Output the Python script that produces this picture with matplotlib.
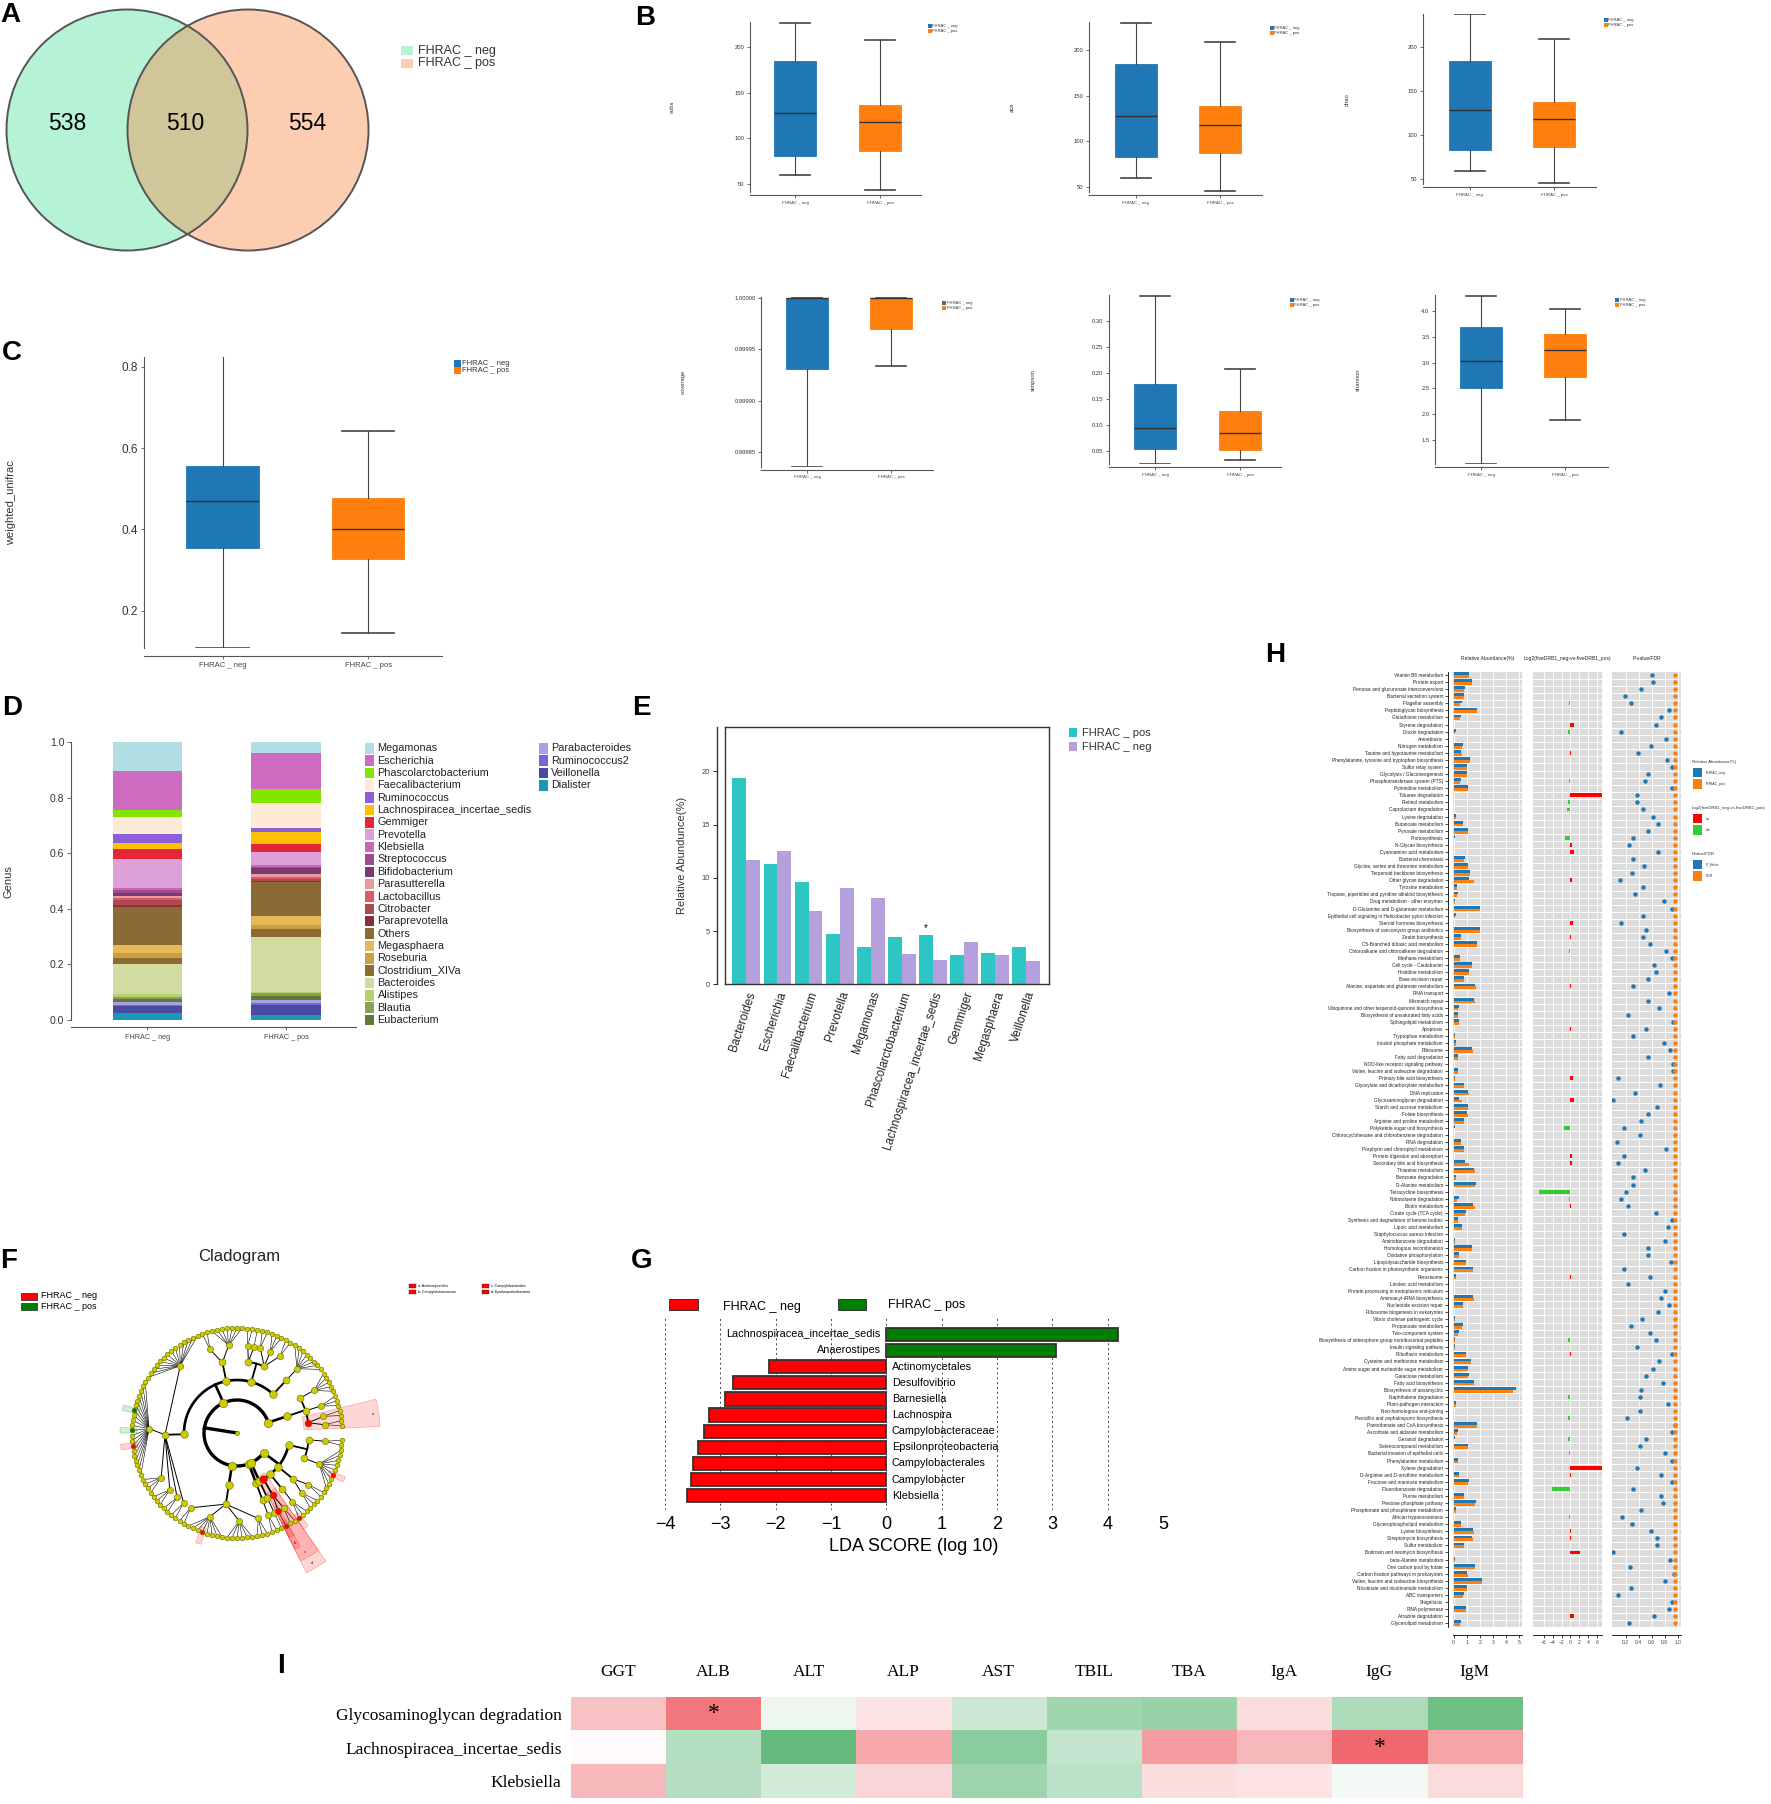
import numpy as np
import matplotlib
matplotlib.use('Agg')
import matplotlib.pyplot as plt
from matplotlib.patches import Circle, Rectangle, Wedge
from matplotlib.colors import LinearSegmentedColormap

plt.rcParams['font.family'] = ['Liberation Sans', 'DejaVu Sans']
NARROW = ['Liberation Sans Narrow', 'Liberation Sans', 'DejaVu Sans']
SERIF = ['Liberation Serif', 'DejaVu Serif']

BLUE, ORANGE = '#1f77b4', '#ff7f0e'

# ---------------- data ----------------
# A: venn
venn_counts = [538, 510, 554]
venn_labels = ['FHRAC _ neg', 'FHRAC _ pos']

# B / C: box stats (whislo, q1, med, q3, whishi)
sobs_neg = [59.2, 81.0, 127.6, 184.6, 227.0]
sobs_pos = [43.0, 86.0, 117.8, 136.4, 207.7]
ace_neg = [59.5, 82.5, 128.0, 185.0, 230.0]
ace_pos = [45.0, 87.0, 118.0, 138.0, 209.0]
chao_neg = [59.4, 82.6, 128.4, 184.8, 237.5]
chao_pos = [45.0, 86.7, 118.2, 138.2, 209.0]
coverage_neg = [0.999835, 0.999931, 1.0, 1.0, 1.0]
coverage_pos = [0.999934, 0.999970, 1.0, 1.0, 1.0]
simpson_neg = [0.0245, 0.0533, 0.0942, 0.179, 0.348]
simpson_pos = [0.0327, 0.052, 0.0846, 0.1277, 0.2077]
shannon_neg = [1.045, 2.512, 3.025, 3.687, 4.288]
shannon_pos = [1.898, 2.725, 3.25, 3.546, 4.03]
unifrac_neg = [0.108, 0.3534, 0.4687, 0.5546, 0.825]
unifrac_pos = [0.1447, 0.327, 0.401, 0.477, 0.642]
groups = ['FHRAC _ neg', 'FHRAC _ pos']

# D: genus composition (legend order, top of stack first)
genus_names = ['Megamonas', 'Escherichia', 'Phascolarctobacterium', 'Faecalibacterium',
               'Ruminococcus', 'Lachnospiracea_incertae_sedis', 'Gemmiger', 'Prevotella',
               'Klebsiella', 'Streptococcus', 'Bifidobacterium', 'Parasutterella',
               'Lactobacillus', 'Citrobacter', 'Paraprevotella', 'Others', 'Megasphaera',
               'Roseburia', 'Clostridium_XIVa', 'Bacteroides', 'Alistipes', 'Blautia',
               'Eubacterium', 'Parabacteroides', 'Ruminococcus2', 'Veillonella', 'Dialister']
genus_neg = [0.103, 0.141, 0.026, 0.061, 0.033, 0.021, 0.035, 0.103, 0.010, 0.010,
             0.010, 0.008, 0.006, 0.020, 0.007, 0.135, 0.031, 0.016, 0.021, 0.111,
             0.009, 0.008, 0.009, 0.011, 0.006, 0.024, 0.025]
genus_pos = [0.038, 0.129, 0.053, 0.087, 0.017, 0.043, 0.027, 0.047, 0.007, 0.006,
             0.020, 0.010, 0.009, 0.006, 0.005, 0.121, 0.033, 0.014, 0.029, 0.197,
             0.006, 0.010, 0.014, 0.012, 0.006, 0.036, 0.018]
genus_colors = ['#b0dee3', '#cc6bc0', '#82e600', '#fdebd8', '#8c5fd8', '#ffc000',
                '#e3263a', '#dda0d8', '#c968b8', '#a04a90', '#7a3a6e', '#e89aa0',
                '#dc5a68', '#b04850', '#8a3038', '#8b6b35', '#e8b858', '#c8a040',
                '#8e6a33', '#d2dca0', '#b8d070', '#8ba058', '#5e7a38', '#a8a0e0',
                '#7068d8', '#4a4aa0', '#1a98b8']

# E: top genera
top_genera = ['Bacteroides', 'Escherichia', 'Faecalibacterium', 'Prevotella', 'Megamonas',
              'Phascolarctobacterium', 'Lachnospiracea_incertae_sedis', 'Gemmiger',
              'Megasphaera', 'Veillonella']
top_pos = [19.37, 11.29, 9.59, 4.70, 3.54, 4.48, 4.67, 2.76, 2.95, 3.48]
top_neg = [11.66, 12.48, 6.87, 9.03, 8.15, 2.82, 2.32, 3.95, 2.76, 2.16]
top_sig = ['Lachnospiracea_incertae_sedis']

# F: cladogram (name, children); int = that many unnamed genera, 0 = leaf
clade_tree = [
    ('Actinobacteria', [('Actinobacteria', [
        ('Actinomycetales', [('Actinomycetaceae', 2), ('Micrococcaceae', 2)]),
        ('Bifidobacteriales', [('Bifidobacteriaceae', 3)]),
        ('Coriobacteriales', [('Coriobacteriaceae', 5)])])]),
    ('Firmicutes', [
        ('Erysipelotrichia', [('Erysipelotrichales', [('Erysipelotrichaceae', 8)])]),
        ('Bacilli', [
            ('Lactobacillales', [('Lactobacillaceae', 2), ('Streptococcaceae', 3),
                                 ('Enterococcaceae', 2)]),
            ('Bacillales', [('Staphylococcaceae', 1), ('Bacillaceae', 2)])]),
        ('Negativicutes', [('Selenomonadales', [('Veillonellaceae', 7),
                                                ('Acidaminococcaceae', 2)])]),
        ('Clostridia', [('Clostridiales', [
            ('Ruminococcaceae', 14),
            ('Lachnospiraceae', [6, ('Lachnospiracea_incertae_sedis', 0), 3,
                                 ('Anaerostipes', 0), 2, ('Lachnospira', 0), 6]),
            ('Clostridiaceae', 4), ('Peptostreptococcaceae', 3),
            ('Eubacteriaceae', 2), ('Peptococcaceae', 2)])])]),
    ('Bacteroidetes', [('Bacteroidia', [('Bacteroidales', [
        ('Bacteroidaceae', 2), ('Porphyromonadaceae', [3, ('Barnesiella', 0), 4]),
        ('Prevotellaceae', 6), ('Rikenellaceae', 3)])])]),
    ('Fusobacteria', [('Fusobacteriia', [('Fusobacteriales', [('Fusobacteriaceae', 2)])])]),
    ('Verrucomicrobia', [('Verrucomicrobiae', [('Verrucomicrobiales',
                                                 [('Verrucomicrobiaceae', 1)])])]),
    ('Proteobacteria', [
        ('Epsilonproteobacteria', [('Campylobacterales', [
            ('Campylobacteraceae', [('Campylobacter', 0)]), ('Helicobacteraceae', 2)])]),
        ('Deltaproteobacteria', [('Desulfovibrionales', [
            ('Desulfovibrionaceae', [('Desulfovibrio', 0), 2])])]),
        ('Betaproteobacteria', [('Burkholderiales', [('Sutterellaceae', 3),
                                                     ('Alcaligenaceae', 2)])]),
        ('Gammaproteobacteria', [
            ('Enterobacteriales', [('Enterobacteriaceae', [3, ('Klebsiella', 0), 5])]),
            ('Pasteurellales', [('Pasteurellaceae', 2)])])]),
]
clade_neg = ['Actinomycetales', 'Lachnospira', 'Barnesiella', 'Epsilonproteobacteria',
             'Campylobacterales', 'Campylobacteraceae', 'Campylobacter', 'Desulfovibrio',
             'Klebsiella']
clade_pos = ['Lachnospiracea_incertae_sedis', 'Anaerostipes']
clade_letters = {'Actinomycetales': 'a', 'Campylobacteraceae': 'b',
                 'Campylobacterales': 'c', 'Epsilonproteobacteria': 'd'}

# G: LEfSe
lefse_names = ['Lachnospiracea_incertae_sedis', 'Anaerostipes', 'Actinomycetales',
               'Desulfovibrio', 'Barnesiella', 'Lachnospira', 'Campylobacteraceae',
               'Epsilonproteobacteria', 'Campylobacterales', 'Campylobacter', 'Klebsiella']
lefse_lda = [4.18, 3.06, -2.12, -2.78, -2.92, -3.20, -3.29, -3.40, -3.50, -3.53, -3.61]

# H: KEGG pathways
h_paths = [
    'Vitamin B6 metabolism', 'Protein export', 'Pentose and glucuronate interconversions',
    'Bacterial secretion system', 'Flagellar assembly', 'Peptidoglycan biosynthesis',
    'Glutathione metabolism', 'Styrene degradation', 'Dioxin degradation', 'Amoebiasis',
    'Nitrogen metabolism', 'Taurine and hypotaurine metabolism',
    'Phenylalanine, tyrosine and tryptophan biosynthesis', 'Sulfur relay system',
    'Glycolysis / Gluconeogenesis', 'Phosphotransferase system (PTS)',
    'Pyrimidine metabolism', 'Toluene degradation', 'Retinol metabolism',
    'Caprolactam degradation', 'Lysine degradation', 'Butanoate metabolism',
    'Pyruvate metabolism', 'Photosynthesis', 'N-Glycan biosynthesis',
    'Cyanoamino acid metabolism', 'Bacterial chemotaxis',
    'Glycine, serine and threonine metabolism', 'Terpenoid backbone biosynthesis',
    'Other glycan degradation', 'Tyrosine metabolism',
    'Tropane, piperidine and pyridine alkaloid biosynthesis',
    'Drug metabolism - other enzymes', 'D-Glutamine and D-glutamate metabolism',
    'Epithelial cell signaling in Helicobacter pylori infection',
    'Steroid hormone biosynthesis', 'Biosynthesis of vancomycin group antibiotics',
    'Zeatin biosynthesis', 'C5-Branched dibasic acid metabolism',
    'Chloroalkane and chloroalkene degradation', 'Methane metabolism',
    'Cell cycle - Caulobacter', 'Histidine metabolism', 'Base excision repair',
    'Alanine, aspartate and glutamate metabolism', 'RNA transport', 'Mismatch repair',
    'Ubiquinone and other terpenoid-quinone biosynthesis',
    'Biosynthesis of unsaturated fatty acids', 'Sphingolipid metabolism', 'Apoptosis',
    'Tryptophan metabolism', 'Inositol phosphate metabolism', 'Ribosome',
    'Fatty acid degradation', 'NOD-like receptor signaling pathway',
    'Valine, leucine and isoleucine degradation', 'Primary bile acid biosynthesis',
    'Glyoxylate and dicarboxylate metabolism', 'DNA replication',
    'Glycosaminoglycan degradation', 'Starch and sucrose metabolism', 'Folate biosynthesis',
    'Arginine and proline metabolism', 'Polyketide sugar unit biosynthesis',
    'Chlorocyclohexane and chlorobenzene degradation', 'RNA degradation',
    'Porphyrin and chlorophyll metabolism', 'Protein digestion and absorption',
    'Secondary bile acid biosynthesis', 'Thiamine metabolism', 'Benzoate degradation',
    'D-Alanine metabolism', 'Tetracycline biosynthesis', 'Nitrotoluene degradation',
    'Biotin metabolism', 'Citrate cycle (TCA cycle)',
    'Synthesis and degradation of ketone bodies', 'Lipoic acid metabolism',
    'Staphylococcus aureus infection', 'Aminobenzoate degradation',
    'Homologous recombination', 'Oxidative phosphorylation',
    'Lipopolysaccharide biosynthesis', 'Carbon fixation in photosynthetic organisms',
    'Peroxisome', 'Linoleic acid metabolism', 'Protein processing in endoplasmic reticulum',
    'Aminoacyl-tRNA biosynthesis', 'Nucleotide excision repair',
    'Ribosome biogenesis in eukaryotes', 'Vibrio cholerae pathogenic cycle',
    'Propanoate metabolism', 'Two-component system',
    'Biosynthesis of siderophore group nonribosomal peptides', 'Insulin signaling pathway',
    'Riboflavin metabolism', 'Cysteine and methionine metabolism',
    'Amino sugar and nucleotide sugar metabolism', 'Galactose metabolism',
    'Fatty acid biosynthesis', 'Biosynthesis of ansamycins', 'Naphthalene degradation',
    'Plant-pathogen interaction', 'Non-homologous end-joining',
    'Penicillin and cephalosporin biosynthesis', 'Pantothenate and CoA biosynthesis',
    'Ascorbate and aldarate metabolism', 'Geraniol degradation', 'Selenocompound metabolism',
    'Bacterial invasion of epithelial cells', 'Phenylalanine metabolism',
    'Xylene degradation', 'D-Arginine and D-ornithine metabolism',
    'Fructose and mannose metabolism', 'Fluorobenzoate degradation', 'Purine metabolism',
    'Pentose phosphate pathway', 'Phosphonate and phosphinate metabolism',
    'African trypanosomiasis', 'Glycerophospholipid metabolism', 'Lysine biosynthesis',
    'Streptomycin biosynthesis', 'Sulfur metabolism', 'Butirosin and neomycin biosynthesis',
    'beta-Alanine metabolism', 'One carbon pool by folate',
    'Carbon fixation pathways in prokaryotes', 'Valine, leucine and isoleucine biosynthesis',
    'Nicotinate and nicotinamide metabolism', 'ABC transporters', 'Shigellosis',
    'RNA polymerase', 'Atrazine degradation', 'Glycerolipid metabolism']
h_neg = [1.18, 1.41, 0.85, 0.82, 0.64, 1.77, 0.59, 0.01, 0.20, 0.01,
         0.69, 0.59, 1.26, 1.03, 1.05, 0.59, 1.08, 0.00, 0.00, 0.05,
         0.15, 0.74, 1.13, 0.10, 0.02, 0.02, 0.90, 1.08, 1.26, 1.20,
         0.26, 0.33, 0.10, 2.00, 0.15, 0.02, 2.03, 0.59, 1.82, 0.00,
         0.49, 1.41, 1.18, 0.80, 1.64, 0.02, 1.56, 0.44, 0.36, 0.44,
         0.00, 0.13, 0.15, 1.44, 0.36, 0.01, 0.36, 0.08, 0.80, 1.10,
         0.38, 1.10, 1.05, 0.77, 0.13, 0.01, 0.59, 0.77, 0.01, 0.87,
         1.59, 0.20, 1.69, 0.01, 0.38, 1.49, 0.92, 0.36, 0.67, 0.01,
         0.13, 1.41, 0.41, 0.97, 1.51, 0.15, 0.01, 0.01, 1.51, 0.72,
         0.01, 0.10, 0.69, 0.38, 0.10, 0.10, 0.92, 1.31, 1.10, 1.15,
         1.54, 4.74, 0.05, 0.18, 0.00, 0.03, 1.77, 0.33, 0.08, 1.08,
         0.01, 0.33, 0.00, 0.41, 1.15, 0.00, 0.80, 1.72, 0.20, 0.00,
         0.56, 1.51, 1.41, 0.82, 0.02, 0.10, 1.67, 1.05, 2.18, 1.05,
         0.77, 0.03, 0.95, 0.00, 0.59]
h_pos = [1.18, 1.41, 0.82, 0.80, 0.51, 1.77, 0.51, 0.01, 0.13, 0.01,
         0.67, 0.62, 1.26, 1.03, 1.03, 0.46, 1.08, 0.00, 0.00, 0.01,
         0.15, 0.69, 1.10, 0.00, 0.02, 0.02, 0.80, 1.10, 1.26, 1.56,
         0.23, 0.28, 0.08, 2.05, 0.13, 0.02, 2.03, 0.59, 1.77, 0.00,
         0.49, 1.41, 1.20, 0.82, 1.72, 0.02, 1.62, 0.36, 0.33, 0.44,
         0.00, 0.13, 0.15, 1.49, 0.33, 0.01, 0.33, 0.10, 0.77, 1.15,
         0.62, 1.10, 1.10, 0.77, 0.00, 0.01, 0.59, 0.80, 0.01, 1.18,
         1.64, 0.18, 1.67, 0.00, 0.28, 1.64, 0.90, 0.33, 0.67, 0.01,
         0.13, 1.44, 0.41, 0.95, 1.49, 0.18, 0.01, 0.01, 1.54, 0.72,
         0.01, 0.08, 0.64, 0.36, 0.08, 0.10, 0.92, 1.31, 1.08, 1.13,
         1.54, 4.56, 0.03, 0.18, 0.00, 0.02, 1.77, 0.28, 0.03, 1.08,
         0.01, 0.31, 0.00, 0.41, 1.08, 0.00, 0.80, 1.62, 0.18, 0.00,
         0.54, 1.56, 1.49, 0.82, 0.02, 0.10, 1.67, 1.08, 2.18, 1.03,
         0.69, 0.01, 0.95, 0.00, 0.51]
h_log2 = [0.0, 0.0, -0.1, 0.0, -0.3, 0.0, -0.1, 0.9, -0.5, -0.2,
          0.0, 0.2, 0.0, 0.0, 0.0, -0.3, 0.0, 7.1, -0.5, -0.8,
          -0.1, 0.0, 0.0, -1.3, 0.3, 0.9, -0.1, 0.0, 0.0, 0.4,
          0.0, -0.2, -0.2, 0.0, 0.0, 0.6, 0.0, 0.1, 0.0, -0.3,
          0.0, 0.0, 0.0, 0.0, 0.05, 0.0, 0.0, -0.1, 0.0, 0.0,
          0.2, -0.1, 0.0, 0.0, 0.0, -0.05, 0.0, 0.5, 0.0, 0.0,
          0.8, 0.0, 0.0, 0.0, -1.4, -0.2, 0.0, 0.0, 0.3, 0.4,
          0.0, 0.0, 0.0, -7.2, -0.4, 0.15, 0.0, 0.0, 0.0, -0.2,
          -0.1, 0.0, 0.0, 0.0, 0.0, 0.1, -0.2, 0.0, 0.0, 0.0,
          0.0, -0.1, 0.0, -0.05, -0.5, 0.0, 0.05, 0.0, 0.0, 0.0,
          0.0, 0.0, -0.5, 0.0, 0.0, -0.5, 0.0, -0.1, -0.5, 0.0,
          -0.3, 0.0, 7.1, 0.1, 0.0, -4.2, 0.0, 0.0, 0.0, -0.4,
          0.0, 0.05, 0.05, 0.0, 2.2, -0.05, 0.0, 0.0, 0.0, 0.0,
          -0.1, -0.2, 0.0, 0.9, -0.1]
h_p = [0.61, 0.62, 0.44, 0.19, 0.28, 0.87, 0.75, 0.66, 0.13, 0.82,
       0.59, 0.39, 0.83, 0.92, 0.54, 0.50, 0.92, 0.38, 0.37, 0.46,
       0.62, 0.70, 0.54, 0.31, 0.25, 0.70, 0.31, 0.49, 0.30, 0.12,
       0.46, 0.35, 0.79, 0.92, 0.47, 0.13, 0.52, 0.46, 0.57, 0.82,
       0.92, 0.64, 0.66, 0.54, 0.31, 0.87, 0.55, 0.72, 0.23, 0.93,
       0.52, 0.31, 0.79, 0.88, 0.55, 0.93, 0.93, 0.09, 0.73, 0.34,
       0.00, 0.68, 0.54, 0.44, 0.17, 0.42, 0.07, 0.82, 0.18, 0.09,
       0.50, 0.32, 0.31, 0.21, 0.13, 0.24, 0.66, 0.92, 0.85, 0.17,
       0.81, 0.54, 0.55, 0.90, 0.18, 0.57, 0.24, 0.81, 0.75, 0.87,
       0.70, 0.45, 0.28, 0.57, 0.66, 0.38, 0.92, 0.72, 0.62, 0.52,
       0.77, 0.44, 0.42, 0.85, 0.42, 0.22, 0.96, 0.92, 0.52, 0.42,
       0.81, 0.91, 0.38, 0.75, 0.92, 0.31, 0.75, 0.77, 0.44, 0.14,
       0.30, 0.59, 0.68, 0.68, 0.00, 0.88, 0.26, 0.95, 0.81, 0.28,
       0.08, 0.92, 0.87, 0.63, 0.25]
h_fdr = [0.96, 0.96, 0.96, 0.96, 0.96, 0.96, 0.96, 0.96, 0.96, 0.96,
         0.96, 0.96, 0.96, 0.96, 0.96, 0.96, 0.96, 0.96, 0.96, 0.96,
         0.96, 0.96, 0.96, 0.96, 0.96, 0.96, 0.96, 0.96, 0.96, 0.96,
         0.96, 0.96, 0.96, 0.96, 0.96, 0.96, 0.96, 0.96, 0.96, 0.96,
         0.96, 0.96, 0.96, 0.96, 0.96, 0.96, 0.96, 0.96, 0.96, 0.96,
         0.96, 0.96, 0.96, 0.96, 0.96, 0.96, 0.96, 0.96, 0.96, 0.96,
         0.96, 0.96, 0.96, 0.96, 0.96, 0.96, 0.96, 0.96, 0.96, 0.96,
         0.96, 0.96, 0.96, 0.96, 0.96, 0.96, 0.96, 0.96, 0.96, 0.96,
         0.96, 0.96, 0.96, 0.96, 0.96, 0.96, 0.96, 0.96, 0.96, 0.96,
         0.96, 0.96, 0.96, 0.96, 0.96, 0.96, 0.96, 0.96, 0.96, 0.96,
         0.96, 0.96, 0.96, 0.96, 0.96, 0.96, 0.96, 0.96, 0.96, 0.96,
         0.96, 0.96, 0.96, 0.96, 0.96, 0.96, 0.96, 0.96, 0.96, 0.96,
         0.96, 0.96, 0.96, 0.96, 0.96, 0.96, 0.96, 0.96, 0.96, 0.96,
         0.96, 0.96, 0.96, 0.96, 0.96]

# I: correlation heatmap
corr_rows = ['Glycosaminoglycan degradation', 'Lachnospiracea_incertae_sedis', 'Klebsiella']
corr_cols = ['GGT', 'ALB', 'ALT', 'ALP', 'AST', 'TBIL', 'TBA', 'IgA', 'IgG', 'IgM']
corr_glyco = [0.29, 0.65, -0.09, 0.13, -0.26, -0.49, -0.52, 0.17, -0.42, -0.75]
corr_lachno = [0.02, -0.39, -0.79, 0.42, -0.60, -0.30, 0.47, 0.34, 0.72, 0.43]
corr_kleb = [0.34, -0.37, -0.22, 0.20, -0.50, -0.35, 0.15, 0.13, -0.06, 0.17]
corr_sig = [(0, 1), (1, 8)]

# ---------------- figure ----------------
W, H = 1771, 1804
fig = plt.figure(figsize=(W / 100, H / 100), dpi=100)
PT = 0.72  # points per pixel


def add_ax(x0, y0, x1, y1):
    return fig.add_axes([x0 / W, 1 - y1 / H, (x1 - x0) / W, (y1 - y0) / H])


def ftext(x, y, s, **kw):
    return fig.text(x / W, 1 - y / H, s, **kw)


def fbox(x, yc, w, h, color, ec='none', lw=0):
    fig.add_artist(Rectangle((x / W, 1 - (yc + h / 2) / H), w / W, h / H,
                             transform=fig.transFigure, facecolor=color,
                             edgecolor=ec, linewidth=lw))


for lab, x, y in [('A', 0, 2), ('B', 635, 5), ('C', 2, 340), ('D', 2, 695), ('E', 632, 695),
                  ('F', 0, 1248), ('G', 631, 1248), ('H', 1265, 642), ('I', 277, 1653)]:
    ftext(x, y, lab, fontsize=20, fontweight='bold', va='top', ha='left')

# ---- A: venn ----
ax = add_ax(0, 0, 380, 260)
ax.set_xlim(0, 380)
ax.set_ylim(260, 0)
ax.set_aspect('equal')
ax.axis('off')
c_left = Circle((127, 130), 120.5, fc='#b6f2d6', ec='none')
c_right = Circle((248, 130), 120.5, fc='#fdcdb2', ec='none')
ax.add_patch(c_left)
ax.add_patch(c_right)
c_mid = Circle((248, 130), 120.5, fc='#cfc69a', ec='none')
ax.add_patch(c_mid)
c_mid.set_clip_path(c_left)
for cx in (127, 248):
    ax.add_patch(Circle((cx, 130), 120.5, fill=False, ec='#555555', lw=1.4))
for xx, v in zip([67.7, 185, 307], venn_counts):
    ax.text(xx, 124, str(v), fontsize=16.5, ha='center', va='center')
for i, (lab, col) in enumerate(zip(venn_labels, ['#b6f2d6', '#fdcdb2'])):
    fbox(401, 50.7 + i * 12.6, 12, 9, col)
    ftext(418, 50.7 + i * 12.6, lab, fontsize=9, va='center', color='#333333')


# ---- B / C: box plots ----
def box_panel(rect, cn, cp, bw, neg, pos, ylim, yticks, ylab, ylab_x, leg, fs_tick,
              fs_xt, fs_lab, fs_leg, fmt=None, out=3, leg_box=(3.5, 4), leg_dy=5):
    x0, y0, x1, y1 = rect
    a = add_ax(x0, y0, x1, y1)
    for s in ('top', 'right'):
        a.spines[s].set_visible(False)
    a.spines['bottom'].set_position(('outward', out * PT))
    for s in ('left', 'bottom'):
        a.spines[s].set_color('#555555')
        a.spines[s].set_linewidth(0.8)
    sc = cp - cn
    stats = [dict(whislo=s[0], q1=s[1], med=s[2], q3=s[3], whishi=s[4], label=g)
             for s, g in zip([neg, pos], groups)]
    bp = a.bxp(stats, positions=[0, 1], widths=bw / sc, capwidths=bw * 0.72 / sc,
               patch_artist=True, showfliers=False,
               medianprops=dict(color='#333333', lw=1.0),
               whiskerprops=dict(color='#444444', lw=0.8),
               capprops=dict(color='#444444', lw=1.2), boxprops=dict(lw=0.6))
    for p, c in zip(bp['boxes'], [BLUE, ORANGE]):
        p.set_facecolor(c)
        p.set_edgecolor(c)
    a.set_xlim((x0 - cn) / sc, (x1 - cn) / sc)
    a.set_ylim(ylim)
    a.set_yticks(yticks)
    if fmt:
        a.set_yticklabels([fmt % t for t in yticks])
    a.tick_params(axis='y', labelsize=fs_tick, length=2.5, width=0.6, colors='#555555',
                  labelcolor='#333333', pad=1.5)
    a.tick_params(axis='x', labelsize=fs_xt, length=2, width=0.6, colors='#555555',
                  labelcolor='#444444', pad=2)
    ftext(ylab_x, (y0 + y1) / 2, ylab, rotation=90, fontsize=fs_lab, ha='center',
          va='center', color='#333333')
    for i, (g, c) in enumerate(zip(groups, [BLUE, ORANGE])):
        fbox(leg[0], leg[1] + i * leg_dy, leg_box[0], leg_box[1], c)
        ftext(leg[0] + leg_box[0] + 1, leg[1] + i * leg_dy, g, fontsize=fs_leg, va='center',
              color='#333333')
    return a


bfs = dict(fs_tick=4.2, fs_xt=3.2, fs_lab=4.2, fs_leg=3.0)
box_panel((750, 22, 921, 192), 795, 880, 42, sobs_neg, sobs_pos, (41, 227.7),
          [50, 100, 150, 200], 'sobs', 672, (928, 26), **bfs)
box_panel((1089, 22, 1262, 192), 1136, 1220, 42, ace_neg, ace_pos, (44.2, 230.7),
          [50, 100, 150, 200], 'ace', 1012, (1270, 28), **bfs)
box_panel((1423, 14.3, 1596, 184), 1470, 1554, 42, chao_neg, chao_pos, (44.3, 237.6),
          [50, 100, 150, 200], 'chao', 1347, (1604, 20), **bfs)
box_panel((761, 296.7, 933, 466.7), 807, 891, 42, coverage_neg, coverage_pos,
          (0.9998353, 1.0000016), [0.99985, 0.99990, 0.99995, 1.0], 'coverage', 683,
          (942, 303), fmt='%.5f', **bfs)
box_panel((1109, 295.3, 1281, 464.3), 1155, 1240, 42, simpson_neg, simpson_pos,
          (0.0245, 0.3487), [0.05, 0.10, 0.15, 0.20, 0.25, 0.30], 'simpson', 1033.5,
          (1290, 300), fmt='%.2f', **bfs)
box_panel((1435, 295.3, 1608, 464.3), 1481, 1565, 42, shannon_neg, shannon_pos,
          (1.037, 4.297), [1.5, 2.0, 2.5, 3.0, 3.5, 4.0], 'shannon', 1358.5,
          (1615, 300), fmt='%.1f', **bfs)
box_panel((143.6, 356.7, 441.8, 648.3), 222.5, 368.2, 72.5, unifrac_neg, unifrac_pos,
          (0.1077, 0.8245), [0.2, 0.4, 0.6, 0.8], 'weighted_unifrac', 10.7, (453.6, 363.3),
          fs_tick=8.5, fs_xt=5.5, fs_lab=8, fs_leg=5.5, out=7.7, leg_box=(7, 7), leg_dy=6.8)

# ---- D: stacked genus bars ----
ax = add_ax(71.4, 742.3, 356.3, 1020)
for s in ('top', 'right'):
    ax.spines[s].set_visible(False)
ax.spines['bottom'].set_position(('outward', 6.7 * PT))
for s in ('left', 'bottom'):
    ax.spines[s].set_color('#555555')
    ax.spines[s].set_linewidth(0.8)
sc = 286 - 147.3
n_g = len(genus_names)
bottoms = [0.0, 0.0]
for k in range(n_g - 1, -1, -1):
    vals = [genus_neg[k], genus_pos[k]]
    ax.bar([0, 1], vals, bottom=bottoms, width=69.4 / sc, color=genus_colors[k],
           edgecolor='none')
    bottoms = [bottoms[0] + vals[0], bottoms[1] + vals[1]]
ax.set_xlim((71.4 - 147.3) / sc, (356.3 - 147.3) / sc)
ax.set_ylim(0, 1.0)
ax.set_yticks([0, 0.2, 0.4, 0.6, 0.8, 1.0])
ax.set_yticklabels(['0.0', '0.2', '0.4', '0.6', '0.8', '1.0'])
ax.set_xticks([0, 1])
ax.set_xticklabels(groups, family=NARROW)
ax.tick_params(axis='y', labelsize=7.5, length=3, width=0.6, colors='#555555',
               labelcolor='#333333', pad=2)
ax.tick_params(axis='x', labelsize=5.2, length=2.5, width=0.6, colors='#555555',
               labelcolor='#444444', pad=3)
ftext(9, 881.7, 'Genus', rotation=90, fontsize=8, ha='center', va='center', color='#333333')
for k, (nm, col) in enumerate(zip(genus_names, genus_colors)):
    if k < 23:
        x, yy = 365, 748.3 + k * 12.35
    else:
        x, yy = 538.8, 748.3 + (k - 23) * 12.35
    fbox(x, yy, 9, 10.5, col)
    ftext(x + 12.6, yy, nm, fontsize=7.8, va='center', family=NARROW, color='#222222')

# ---- E: top genera bars ----
ax = add_ax(724.6, 726.7, 1048.6, 984.3)
ax.spines['left'].set_position(('outward', 8 * PT))
for s in ax.spines.values():
    s.set_color('#333333')
    s.set_linewidth(1.0)
xe = np.arange(len(top_genera))
ax.bar(xe - 0.2235, top_pos, width=0.447, color='#2ec6c4', edgecolor='none')
ax.bar(xe + 0.2235, top_neg, width=0.447, color='#b4a0dc', edgecolor='none')
for g in top_sig:
    i = top_genera.index(g)
    ax.text(i - 0.2235, top_pos[i] + 0.15, '*', ha='center', va='bottom', fontsize=7)
ax.set_xlim(-0.70, 9.72)
ax.set_ylim(0, 24.2)
ax.set_yticks([0, 5, 10, 15, 20])
ax.set_xticks(xe)
ax.set_xticklabels(top_genera, rotation=72, ha='right', va='top', rotation_mode='anchor',
                   fontsize=8.5, color='#222222')
ax.plot([0, 0], [0, 1], transform=ax.transAxes, color='#333333', lw=1.0, clip_on=False)
ax.tick_params(axis='y', labelsize=5.5, length=3, width=0.6, labelcolor='#444444', pad=2)
ax.tick_params(axis='x', length=0, pad=4)
ax.set_ylabel('Relative Abundunce(%)', fontsize=8, color='#333333', labelpad=10)
for i, (lab, col) in enumerate(zip(['FHRAC _ pos', 'FHRAC _ neg'], ['#2ec6c4', '#b4a0dc'])):
    fbox(1068.6, 732.7 + i * 14, 8.6, 9.4, col)
    ftext(1082.5, 732.7 + i * 14, lab, fontsize=8, va='center', color='#333333')

# ---- F: cladogram ----
ax = add_ax(237 - 175, 1433 - 175, 237 + 175, 1433 + 175)
ax.set_xlim(-175, 175)
ax.set_ylim(-175, 175)
ax.set_aspect('equal')
ax.axis('off')
radii = [0, 33, 53, 72, 88, 105]


def kids_of(ch):
    if not ch:
        return []
    if isinstance(ch, int):
        return [None] * ch
    out = []
    for c in ch:
        if isinstance(c, int):
            out.extend([None] * c)
        else:
            out.append(c)
    return out


def count_leaves(node):
    ks = kids_of(node[1]) if node is not None else []
    return 1 if not ks else sum(count_leaves(k) for k in ks)


root = ('root', clade_tree)
n_leaves = count_leaves(root)
a_start, a_end = 4.0, 356.0
a_step = (a_end - a_start) / (n_leaves - 1)
cl_nodes, cl_arcs, cl_stems, cl_lines = [], [], [], []
leaf_i = [0]


def place(node, depth):
    name, ch = (None, 0) if node is None else node
    ks = kids_of(ch)
    if not ks:
        ang = a_start + leaf_i[0] * a_step
        leaf_i[0] += 1
        cl_nodes.append((name, depth, ang, ang, ang))
        return ang, ang, ang
    res = [place(k, depth + 1) for k in ks]
    ang = (res[0][0] + res[-1][0]) / 2
    cl_nodes.append((name, depth, ang, res[0][1], res[-1][2]))
    if depth <= 2:
        cl_stems.append((depth, ang))
        cl_arcs.append((depth + 1, res[0][0], res[-1][0]))
    else:
        for r in res:
            cl_lines.append((depth, ang, r[0]))
    return ang, res[0][1], res[-1][2]


place(root, 0)


def pol(r, a):
    return r * np.cos(np.radians(a)), r * np.sin(np.radians(a))


wedge_out = {2: 156, 3: 143, 4: 130, 5: 117}
for name, d, ang, amin, amax in sorted(cl_nodes, key=lambda t: t[1]):
    if name in clade_neg or name in clade_pos:
        rgb = (1, 0, 0) if name in clade_neg else (0, 0.55, 0)
        ax.add_patch(Wedge((0, 0), wedge_out[d], amin - a_step / 2, amax + a_step / 2,
                           width=wedge_out[d] - radii[d] + 5, fc=rgb + (0.16,),
                           ec=rgb + (0.3,), lw=0.5, zorder=0))
        if name in clade_letters:
            tx, ty = pol(wedge_out[d] - 6, ang)
            ax.text(tx, ty, clade_letters[name], fontsize=3, ha='center', va='center',
                    color='#660000')
arc_lw = {1: 2.4, 2: 1.9, 3: 1.3}
for d, a1, a2 in cl_arcs:
    th = np.linspace(a1, a2, 200)
    ax.plot(*pol(radii[d], th), color='black', lw=arc_lw[d], zorder=1,
            solid_capstyle='butt')
for d, ang in cl_stems:
    ax.plot(*zip(pol(radii[d], ang), pol(radii[d + 1], ang)), color='black',
            lw=arc_lw[d + 1], zorder=1)
line_lw = {3: 0.7, 4: 0.4}
for d, a_par, a_ch in cl_lines:
    ax.plot(*zip(pol(radii[d], a_par), pol(radii[d + 1], a_ch)), color='black',
            lw=line_lw[d], zorder=1)
node_ms = [3, 6, 5.5, 5, 4.5, 3.4]
for name, d, ang, amin, amax in cl_nodes:
    fc = '#cccc00'
    if name in clade_neg:
        fc = '#ff0000'
    elif name in clade_pos:
        fc = '#008000'
    ax.plot(*pol(radii[d], ang), 'o', ms=node_ms[d], mfc=fc, mec='#6b6b00', mew=0.4,
            zorder=3)
ftext(239.5, 1256.7, 'Cladogram', fontsize=12, ha='center', va='center', family=NARROW,
      color='#222222')
for i, (lab, col) in enumerate(zip(['FHRAC _ neg', 'FHRAC _ pos'], ['#ff0000', '#008000'])):
    fbox(21, 1296 + i * 10.7, 16, 7, col, ec='#222222', lw=0.5)
    ftext(41, 1296 + i * 10.7, lab, fontsize=6.5, va='center', family=NARROW)
for i, (nm, ch) in enumerate(clade_letters.items()):
    x = 409 if ch in 'ab' else 482
    yy = 1286 + (6 if ch in 'bd' else 0)
    fbox(x, yy, 7, 4, '#ff0000', ec='#333333', lw=0.3)
    ftext(x + 9, yy, ch + ': ' + nm, fontsize=2.6, va='center', family=NARROW)

# ---- G: LDA bars ----
ax = add_ax(665, 1318, 1163, 1510)
for s in ax.spines.values():
    s.set_visible(False)
yl = np.arange(len(lefse_names))
lcols = ['#008000' if v > 0 else '#ff0000' for v in lefse_lda]
ax.barh(yl, lefse_lda, height=0.82, color=lcols, edgecolor='#333333', lw=1.3, zorder=2)
for v in range(-4, 6):
    ax.axvline(v, ls=(0, (2, 3)), color='#444444', lw=0.7, zorder=0)
for i, (nm, v) in enumerate(zip(lefse_names, lefse_lda)):
    if v > 0:
        ax.text(-0.1, i, nm, ha='right', va='center', fontsize=7.8, family=NARROW, zorder=3)
    else:
        ax.text(0.1, i, nm, ha='left', va='center', fontsize=7.8, family=NARROW, zorder=3)
ax.set_xlim(-4, 5)
ax.set_ylim(10.88, -1.01)
ax.set_yticks([])
ax.set_xticks(range(-4, 6))
ax.tick_params(axis='x', length=0, labelsize=13, pad=4.5)
for t in ax.get_xticklabels():
    t.set_family(NARROW)
ftext(914, 1546.7, 'LDA SCORE (log 10)', fontsize=13, ha='center', va='center',
      family=NARROW)
fbox(669, 1304.7, 29, 10.7, '#ff0000', ec='#222222', lw=0.6)
ftext(723, 1307, 'FHRAC _ neg', fontsize=9, va='center', family=NARROW)
fbox(838, 1304.7, 28, 10.7, '#008000', ec='#222222', lw=0.6)
ftext(887.6, 1305, 'FHRAC _ pos', fontsize=9, va='center', family=NARROW)

# ---- H: pathway comparison ----
n_h = len(h_paths)
yh = np.arange(n_h)
hy0, hy1 = 671.5, 1626.8
ax1 = add_ax(1452.9, hy0, 1522.4, hy1)
ax2 = add_ax(1532.5, hy0, 1601.7, hy1)
ax3 = add_ax(1612.2, hy0, 1681.4, hy1)
titles = ['Relative Abundance(%)', 'Log2(fiveDRB1_neg-vs-fiveDRB1_pos)', 'P-value/FDR']
for a, t in zip([ax1, ax2, ax3], titles):
    for s in ('top', 'right', 'left'):
        a.spines[s].set_visible(False)
    a.spines['bottom'].set_position(('outward', 8 * PT))
    a.spines['bottom'].set_linewidth(0.6)
    a.set_facecolor('#dcdcdc')
    a.set_title(t, fontsize=3.6, pad=8, color='#222222')
ax1.spines['left'].set_visible(True)
ax1.spines['left'].set_position(('outward', 5 * PT))
ax1.spines['left'].set_linewidth(0.6)

ax1.barh(yh - 0.2, h_neg, height=0.4, color=BLUE, zorder=2)
ax1.barh(yh + 0.2, h_pos, height=0.4, color=ORANGE, zorder=2)
ax1.set_xlim(-0.05, 5.26)
ax1.set_xticks([0, 1, 2, 3, 4, 5])
lcol = ['#ff0000' if v > 0 else '#33cc33' for v in h_log2]
ax2.barh(yh, h_log2, height=0.56, color=lcol, zorder=2)
ax2.set_xlim(-8.6, 7.1)
ax2.set_xticks([-6, -4, -2, 0, 2, 4, 6])
ax3.plot(h_p, yh, 'o', ms=3.2, color=BLUE, mew=0, zorder=2)
ax3.plot(h_fdr, yh, 'o', ms=3.2, color=ORANGE, mew=0, zorder=3)
ax3.set_xlim(-0.006, 1.057)
ax3.set_xticks([0.2, 0.4, 0.6, 0.8, 1.0])
ax3.set_xticklabels(['0.2', '0.4', '0.6', '0.8', '1.0'])
for a in (ax1, ax2, ax3):
    a.set_ylim(n_h - 0.5, -0.5)
    a.set_yticks(yh + 0.5, minor=True)
    a.grid(which='minor', axis='y', color='white', lw=0.7)
    a.grid(which='major', axis='x', color='white', lw=0.6)
    a.set_axisbelow(True)
    a.tick_params(axis='x', labelsize=3.6, length=2, width=0.5, labelcolor='#444444', pad=2)
    a.tick_params(axis='y', which='minor', length=0)
    if a is not ax1:
        a.set_yticks([])
ax1.set_yticks(yh)
ax1.set_yticklabels(h_paths)
ax1.tick_params(axis='y', which='major', labelsize=3.4, labelcolor='#222222', length=2,
                width=0.5, pad=1.5)
h_legend = [('Relative Abundance(%)', [('FHRAC_neg', BLUE), ('FHRAC_pos', ORANGE)]),
            ('Log2(fiveDRB1_neg-vs-fiveDRB1_pos)', [('up', '#ff0000'), ('dw', '#33cc33')]),
            ('Pvalue/FDR', [('P_Value', BLUE), ('FDR', ORANGE)])]
yy = 761.7
for title, items in h_legend:
    ftext(1692, yy, title, fontsize=3.1, va='center', color='#333333')
    for j, (lab, col) in enumerate(items):
        fbox(1692.5, yy + 11 + j * 11.3, 9, 9.5, col)
        ftext(1706, yy + 11 + j * 11.3, lab, fontsize=2.6, va='center', color='#333333')
    yy += 46

# ---- I: correlation heatmap ----
ax = add_ax(570.6, 1696.7, 1522, 1798.3)
for s in ax.spines.values():
    s.set_visible(False)
cmap = LinearSegmentedColormap.from_list('gwr', ['#3daa5c', '#ffffff', '#ea3038'])
corr = np.array([corr_glyco, corr_lachno, corr_kleb])
ax.imshow(corr, cmap=cmap, vmin=-1, vmax=1, aspect='auto')
for r, c in corr_sig:
    ax.text(c, r, '*', ha='center', va='center', fontsize=17, family=SERIF)
ax.xaxis.tick_top()
ax.set_xticks(range(len(corr_cols)))
ax.set_xticklabels(corr_cols, fontsize=12.5, family=SERIF)
ax.set_yticks(range(len(corr_rows)))
ax.set_yticklabels(corr_rows, fontsize=12.5, family=SERIF)
ax.tick_params(length=0)
ax.tick_params(axis='x', pad=12)
ax.tick_params(axis='y', pad=6.5)

fig.savefig('out.png', dpi=100)
